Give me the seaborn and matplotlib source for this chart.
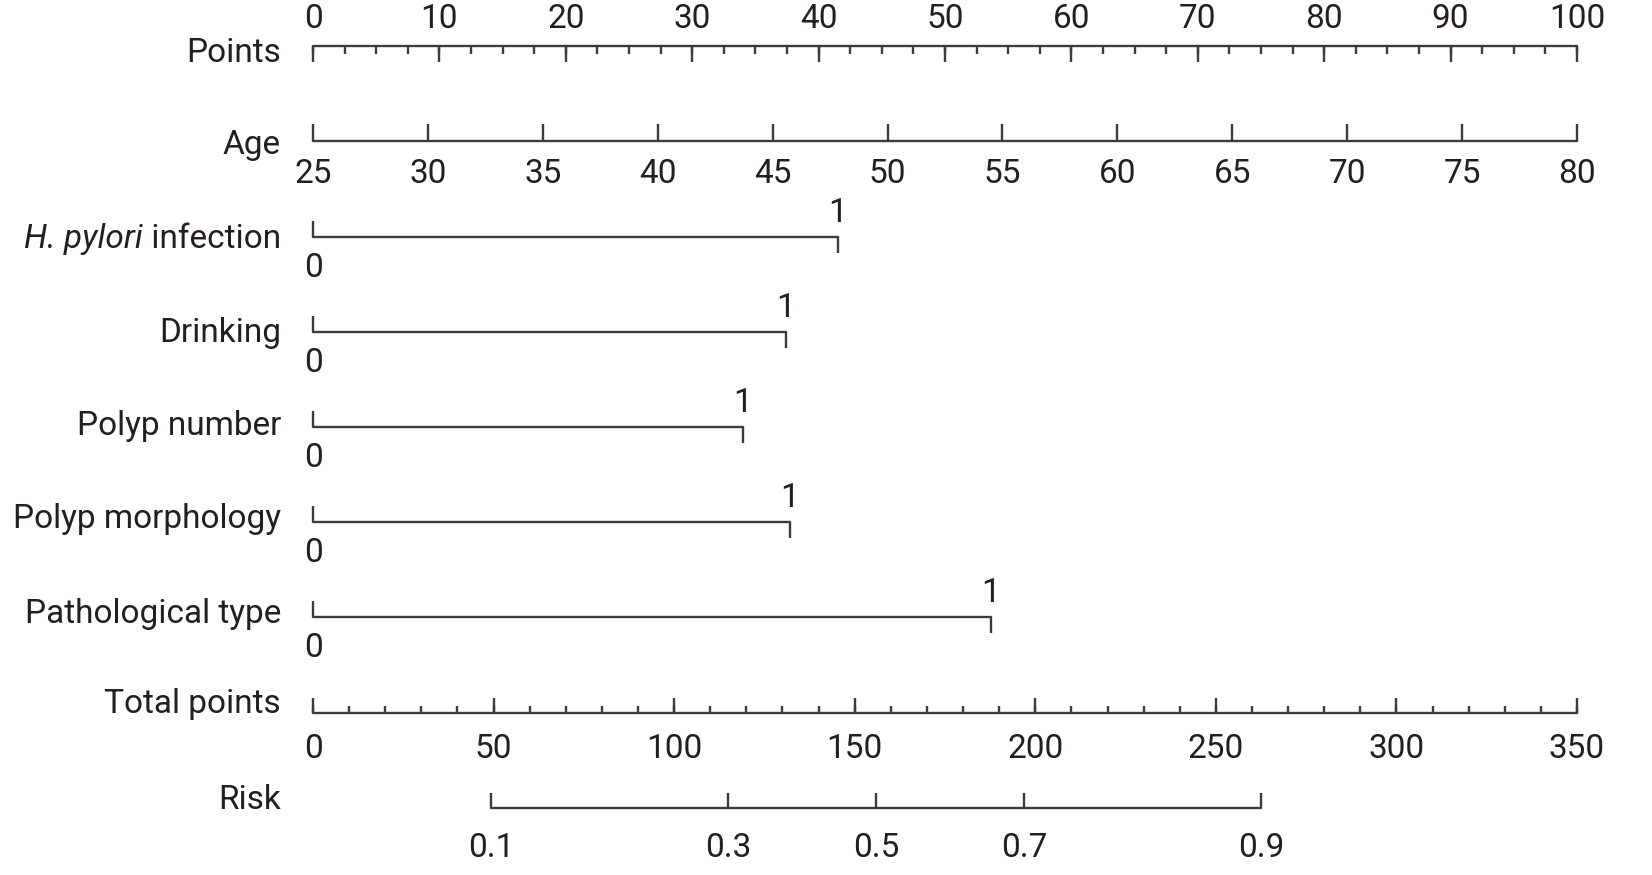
import numpy as np
import pandas as pd
import matplotlib.pyplot as plt
import seaborn as sns
from matplotlib import font_manager

# nomogram values
points_ticks = list(range(0, 101, 10))
age_ticks = list(range(25, 81, 5))
age_min, age_max = 25, 80
binary_names = ["Drinking", "Polyp number", "Polyp morphology", "Pathological type"]
hp_points = 41.5
binary_points = [37.4, 34.0, 37.7, 53.6]
total_ticks = list(range(0, 351, 50))
total_max = 350
risk_labels = ["0.1", "0.3", "0.5", "0.7", "0.9"]
risk_total = [49.3, 114.9, 156.0, 196.9, 262.5]

sns.set_theme(style="white")
names = {f.name for f in font_manager.fontManager.ttflist}
family = "DejaVu Sans"
for cand in ["Roboto", "Liberation Sans Narrow"]:
    if cand in names:
        family = cand
        break
plt.rcParams['font.family'] = [family, 'DejaVu Sans']

W, H = 1652, 875
fig = plt.figure(figsize=(W / 100, H / 100), dpi=100)
ax = fig.add_axes([0, 0, 1, 1])
x0, x1 = 313, 1577            # pixel span of 0..100 points
scale = (x1 - x0) / 100
ax.set_xlim(-x0 / scale, (W - x0) / scale)
ax.set_ylim(H, 0)
ax.axis("off")

LC = "#3c3c3c"
TC = "#231f20"
FS = 24
LW = 1.7
label_x = (281 - x0) / scale

# row positions (pixels from top)
y_points, y_age = 46, 141
y_bin = [237, 332, 427, 522, 617]
y_bin_text = [248, 342, 435, 528, 623]
y_total, y_risk = 713, 808

# baselines drawn through seaborn
rows = pd.DataFrame({
    "row": ["points", "points", "age", "age", "total", "total", "risk", "risk"],
    "x": [0, 100, 0, 100, 0, 100, risk_total[0] / total_max * 100, risk_total[-1] / total_max * 100],
    "y": [y_points, y_points, y_age, y_age, y_total, y_total, y_risk, y_risk],
})
all_pts = [hp_points] + binary_points
for i, p in enumerate(all_pts):
    rows = pd.concat([rows, pd.DataFrame({"row": [f"b{i}"] * 2, "x": [0, p], "y": [y_bin[i]] * 2})])
sns.lineplot(data=rows, x="x", y="y", units="row", estimator=None, color=LC, lw=LW, ax=ax, sort=False)

def txt(x, y, s, ha="center", **kw):
    return ax.text(x, y, s, ha=ha, va="baseline", fontsize=FS, color=TC, **kw)

# Points axis (ticks down)
txt(label_x, 62, "Points", ha="right")
minor = np.arange(0, 100.01, 2.5)
ax.vlines(minor, y_points, y_points + 8, color=LC, lw=LW)
ax.vlines(points_ticks, y_points, y_points + 16, color=LC, lw=LW)
for t in points_ticks:
    txt(t, 28, str(t))

# Age axis (ticks up)
txt(label_x, 154, "Age", ha="right")
age_x = [(a - age_min) / (age_max - age_min) * 100 for a in age_ticks]
ax.vlines(age_x, y_age - 17, y_age, color=LC, lw=LW)
for a, xx in zip(age_ticks, age_x):
    txt(xx, 183, str(a))

# binary predictors
t_inf = txt(label_x, y_bin_text[0], " infection", ha="right")
ax.annotate("H. pylori", xy=(0, 0), xycoords=t_inf, ha="right", va="bottom",
            fontsize=FS, color=TC, style="italic")
for name, yt in zip(binary_names, y_bin_text[1:]):
    txt(label_x, yt, name, ha="right")
for p, y in zip(all_pts, y_bin):
    ax.vlines(0, y - 16, y, color=LC, lw=LW)
    ax.vlines(p, y, y + 16, color=LC, lw=LW)
    txt(p, y - 15, "1")
    txt(0, y + 40, "0")

# Total points (ticks up)
txt(label_x, 713, "Total points", ha="right")
tmin = np.arange(0, total_max + 0.1, 10) / total_max * 100
ax.vlines(tmin, y_total - 7, y_total, color=LC, lw=LW)
tmaj = [t / total_max * 100 for t in total_ticks]
ax.vlines(tmaj, y_total - 15, y_total, color=LC, lw=LW)
for t, xx in zip(total_ticks, tmaj):
    txt(xx, 758, str(t))

# Risk
txt(label_x, 809, "Risk", ha="right")
rx = [r / total_max * 100 for r in risk_total]
ax.vlines(rx, y_risk - 15, y_risk, color=LC, lw=LW)
for s, xx in zip(risk_labels, rx):
    txt(xx, 857, s)

fig.savefig("out.png", dpi=100)
